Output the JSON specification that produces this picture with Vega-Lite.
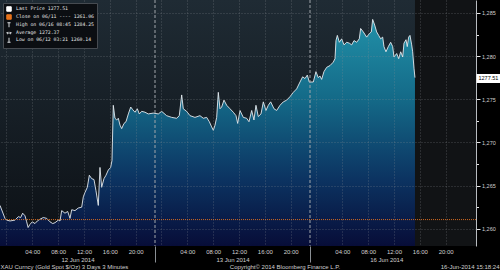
{
  "$schema": "https://vega.github.io/schema/vega-lite/v6.json",
  "width": 476,
  "height": 246,
  "autosize": {"type": "none"},
  "padding": {"left": 0, "top": 0, "right": 24, "bottom": 24},
  "background": "#000000",
  "config": {
    "view": {"fill": "#111315", "stroke": null},
    "font": "Liberation Sans",
    "legend": {"orient": "top-left", "offset": 3, "fillColor": "#0b0e12", "strokeColor": "#464b51", "padding": 3,
      "rowPadding": -2.6, "symbolSize": 20, "symbolStrokeWidth": 1, "symbolOpacity": 1,
      "labelFont": "DejaVu Sans Mono", "labelFontSize": 4.8, "labelColor": "#e6e6e6", "labelOffset": 4, "labelLimit": 200}
  },
  "datasets": {
    "gold": [
      {"t": -1.0, "p": 1262.7}, {"t": -0.23, "p": 1261.2}, {"t": 0.03, "p": 1261.0}, {"t": 0.55, "p": 1260.9},
      {"t": 1.32, "p": 1261.0}, {"t": 1.84, "p": 1261.4}, {"t": 2.2, "p": 1261.3}, {"t": 2.51, "p": 1261.8},
      {"t": 2.87, "p": 1261.5}, {"t": 3.13, "p": 1260.8}, {"t": 3.35, "p": 1260.14}, {"t": 3.64, "p": 1260.5},
      {"t": 4.0, "p": 1260.8}, {"t": 4.42, "p": 1260.6}, {"t": 4.78, "p": 1260.9}, {"t": 5.19, "p": 1261.1},
      {"t": 5.71, "p": 1261.3}, {"t": 6.23, "p": 1261.2}, {"t": 6.74, "p": 1260.8}, {"t": 7.16, "p": 1260.6},
      {"t": 7.52, "p": 1260.7}, {"t": 8.03, "p": 1261.0}, {"t": 8.29, "p": 1260.9}, {"t": 8.55, "p": 1262.1},
      {"t": 9.06, "p": 1261.8}, {"t": 9.48, "p": 1262.0}, {"t": 9.84, "p": 1261.2}, {"t": 10.1, "p": 1262.2},
      {"t": 10.61, "p": 1262.1}, {"t": 11.12, "p": 1262.4}, {"t": 11.65, "p": 1262.5}, {"t": 11.9, "p": 1263.7},
      {"t": 12.16, "p": 1264.2}, {"t": 12.52, "p": 1264.8}, {"t": 12.83, "p": 1266.2}, {"t": 13.2, "p": 1265.8},
      {"t": 13.55, "p": 1265.7}, {"t": 13.86, "p": 1264.4}, {"t": 14.22, "p": 1262.7}, {"t": 14.48, "p": 1267.1},
      {"t": 14.74, "p": 1264.8}, {"t": 15.1, "p": 1265.8}, {"t": 15.41, "p": 1266.2}, {"t": 15.77, "p": 1266.8},
      {"t": 16.13, "p": 1267.1}, {"t": 16.34, "p": 1267.9}, {"t": 16.54, "p": 1274.3}, {"t": 16.8, "p": 1272.8},
      {"t": 17.07, "p": 1272.6}, {"t": 17.32, "p": 1272.8}, {"t": 17.58, "p": 1272.0}, {"t": 17.84, "p": 1271.6},
      {"t": 18.2, "p": 1272.2}, {"t": 18.51, "p": 1272.4}, {"t": 18.87, "p": 1273.3}, {"t": 19.24, "p": 1274.1},
      {"t": 19.54, "p": 1273.8}, {"t": 19.9, "p": 1273.5}, {"t": 20.26, "p": 1273.9}, {"t": 20.57, "p": 1273.3},
      {"t": 20.94, "p": 1273.6}, {"t": 21.45, "p": 1273.5}, {"t": 21.96, "p": 1273.3}, {"t": 22.74, "p": 1273.4},
      {"t": 23.51, "p": 1273.3}, {"t": 24.03, "p": 1273.6}, {"t": 24.8, "p": 1273.1}, {"t": 25.58, "p": 1272.9},
      {"t": 26.35, "p": 1272.8}, {"t": 26.76, "p": 1273.1}, {"t": 27.13, "p": 1275.5}, {"t": 27.38, "p": 1273.9},
      {"t": 27.9, "p": 1273.6}, {"t": 28.42, "p": 1273.1}, {"t": 29.19, "p": 1272.9}, {"t": 29.96, "p": 1273.1},
      {"t": 30.48, "p": 1272.8}, {"t": 31.0, "p": 1272.9}, {"t": 31.41, "p": 1272.4}, {"t": 31.77, "p": 1271.8},
      {"t": 32.03, "p": 1271.4}, {"t": 32.29, "p": 1272.0}, {"t": 32.55, "p": 1272.9}, {"t": 32.8, "p": 1275.8},
      {"t": 33.06, "p": 1273.9}, {"t": 33.32, "p": 1274.1}, {"t": 33.68, "p": 1274.9}, {"t": 34.1, "p": 1274.3},
      {"t": 34.61, "p": 1273.9}, {"t": 35.12, "p": 1273.5}, {"t": 35.54, "p": 1273.1}, {"t": 35.8, "p": 1272.2},
      {"t": 36.16, "p": 1273.7}, {"t": 36.67, "p": 1272.9}, {"t": 37.19, "p": 1272.8}, {"t": 37.55, "p": 1272.4},
      {"t": 37.97, "p": 1273.7}, {"t": 38.32, "p": 1272.6}, {"t": 38.63, "p": 1274.3}, {"t": 38.99, "p": 1273.0},
      {"t": 39.41, "p": 1273.3}, {"t": 39.77, "p": 1274.7}, {"t": 40.18, "p": 1273.7}, {"t": 40.54, "p": 1274.3},
      {"t": 40.91, "p": 1274.7}, {"t": 41.42, "p": 1273.9}, {"t": 41.84, "p": 1273.7}, {"t": 42.35, "p": 1274.3},
      {"t": 42.87, "p": 1274.7}, {"t": 43.39, "p": 1274.9}, {"t": 43.9, "p": 1275.3}, {"t": 44.41, "p": 1275.8},
      {"t": 44.93, "p": 1276.2}, {"t": 45.45, "p": 1277.0}, {"t": 45.86, "p": 1277.6}, {"t": 46.22, "p": 1277.4},
      {"t": 46.58, "p": 1277.8}, {"t": 46.89, "p": 1277.0}, {"t": 47.51, "p": 1277.0}, {"t": 47.92, "p": 1278.2},
      {"t": 48.28, "p": 1277.5}, {"t": 48.54, "p": 1277.7}, {"t": 48.8, "p": 1277.3}, {"t": 49.16, "p": 1278.2},
      {"t": 49.58, "p": 1278.7}, {"t": 50.09, "p": 1278.9}, {"t": 50.6, "p": 1279.3}, {"t": 50.87, "p": 1279.7},
      {"t": 51.02, "p": 1281.8}, {"t": 51.23, "p": 1282.4}, {"t": 51.54, "p": 1281.6}, {"t": 51.9, "p": 1282.0},
      {"t": 52.26, "p": 1281.3}, {"t": 52.68, "p": 1281.6}, {"t": 53.08, "p": 1281.5}, {"t": 53.45, "p": 1281.3},
      {"t": 53.81, "p": 1281.8}, {"t": 54.22, "p": 1281.6}, {"t": 54.63, "p": 1282.0}, {"t": 54.84, "p": 1283.2},
      {"t": 55.25, "p": 1282.8}, {"t": 55.77, "p": 1282.2}, {"t": 56.18, "p": 1282.6}, {"t": 56.49, "p": 1282.8},
      {"t": 56.7, "p": 1284.25}, {"t": 57.01, "p": 1283.6}, {"t": 57.32, "p": 1282.8}, {"t": 57.63, "p": 1282.4},
      {"t": 57.94, "p": 1282.0}, {"t": 58.25, "p": 1282.2}, {"t": 58.45, "p": 1281.1}, {"t": 58.76, "p": 1280.5},
      {"t": 59.12, "p": 1281.1}, {"t": 59.49, "p": 1281.6}, {"t": 59.8, "p": 1281.1}, {"t": 60.0, "p": 1279.9},
      {"t": 60.42, "p": 1280.3}, {"t": 60.73, "p": 1279.7}, {"t": 61.04, "p": 1280.5}, {"t": 61.35, "p": 1279.9},
      {"t": 61.55, "p": 1281.5}, {"t": 61.86, "p": 1281.9}, {"t": 62.06, "p": 1281.1}, {"t": 62.27, "p": 1282.2},
      {"t": 62.48, "p": 1282.4}, {"t": 62.74, "p": 1281.3}, {"t": 62.89, "p": 1280.5}, {"t": 63.1, "p": 1278.6},
      {"t": 63.25, "p": 1277.51}
    ],
    "stats": [
      {"name": "Last Price", "val": 1277.51, "t": 63.25},
      {"name": "Close on 06/11 ----", "val": 1261.06, "t": -1},
      {"name": "High on 06/16 08:45", "val": 1284.25, "t": 56.7},
      {"name": "Average", "val": 1272.37, "t": 31},
      {"name": "Low on 06/12 03:21", "val": 1260.14, "t": 3.35}
    ],
    "days": [{"sep": 23}, {"sep": 47}]
  },
  "layer": [
    {
      "data": {"name": "gold"},
      "transform": [{"aggregate": [{"op": "min", "field": "t", "as": "t0"}, {"op": "max", "field": "t", "as": "t1"}]}],
      "mark": {"type": "rect", "fill": {"gradient": "linear", "x1": 0, "y1": 0, "x2": 0, "y2": 1, "stops": [{"offset": 0, "color": "#1f2b34"}, {"offset": 1, "color": "#0c1015"}]}},
      "encoding": {
        "x": {"field": "t0", "type": "quantitative", "scale": {"domain": [-1, 72.7], "nice": false, "zero": false}, "axis": null},
        "x2": {"field": "t1"}
      }
    },
    {
      "data": {"name": "gold"},
      "mark": {"type": "area", "clip": true, "color": {"gradient": "linear", "x1": 1, "y1": 0, "x2": 1, "y2": 1, "stops": [{"offset": 0, "color": "#2190a8"}, {"offset": 0.35, "color": "#146a88"}, {"offset": 0.7, "color": "#0c3462"}, {"offset": 1, "color": "#070d38"}]}},
      "encoding": {
        "x": {"field": "t", "type": "quantitative", "scale": {"domain": [-1, 72.7], "nice": false, "zero": false},
          "axis": {"orient": "bottom", "values": [0, 4, 8, 12, 16, 20, 24, 28, 32, 36, 40, 44, 48, 52, 56, 60, 64, 68],
            "grid": true, "gridColor": "#8a9096", "gridDash": [1, 2], "gridOpacity": 0.55, "gridWidth": 0.8,
            "ticks": false, "tickSize": 0, "domain": false,
            "labelExpr": "(datum.value % 24 == 0) ? '' : ((datum.value % 24) < 10 ? '0' : '') + (datum.value % 24) + ':00'",
            "labelFont": "Liberation Sans", "labelFontSize": 6, "labelColor": "#d0d0d0", "labelPadding": 2, "labelFlush": false, "labelOverlap": false,
            "title": "XAU Curncy (Gold Spot  $/Oz) 3 Days 3 Minutes", "titleX": 0, "titleY": 22.5, "titleAlign": "left", "titleBaseline": "alphabetic",
            "titleFont": "Liberation Sans", "titleFontSize": 6, "titleFontWeight": "normal", "titleColor": "#d0d0d0", "zindex": 1}},
        "y": {"field": "p", "type": "quantitative", "scale": {"domain": [1258, 1286.5], "nice": false, "zero": false},
          "axis": {"orient": "right", "values": [1260, 1262.5, 1265, 1267.5, 1270, 1272.5, 1275, 1277.5, 1280, 1282.5, 1285], "title": null,
            "grid": true, "gridColor": "#8a9096", "gridDash": [1, 2], "gridWidth": 0.8,
            "gridOpacity": {"condition": {"test": "datum.value % 5 == 0", "value": 0.55}, "value": 0},
            "domain": true, "domainColor": "#b8bcc0", "domainWidth": 1, "ticks": true, "tickColor": "#e6e6e6", "tickWidth": 1,
            "tickSize": {"condition": {"test": "datum.value % 5 == 0", "value": 4}, "value": 2.5},
            "labelExpr": "datum.value % 5 == 0 ? datum.label : ''",
            "labelFont": "Liberation Sans", "labelColor": "#d0d0d0", "labelFontSize": 5.5, "labelPadding": 1.5, "zindex": 1}},
        "y2": {"datum": 1258}
      }
    },
    {
      "data": {"name": "gold"},
      "mark": {"type": "line", "stroke": "#e4eaee", "strokeWidth": 0.9},
      "encoding": {
        "x": {"field": "t", "type": "quantitative",
          "axis": {"orient": "top", "offset": -246, "values": [11, 35, 58.8], "grid": false, "ticks": false, "tickSize": 0, "domain": false,
            "labelExpr": "datum.value == 11 ? '12 Jun 2014' : datum.value == 35 ? '13 Jun 2014' : '16 Jun 2014'",
            "labelFont": "Liberation Sans", "labelFontSize": 6, "labelColor": "#d0d0d0", "labelPadding": -13.5, "labelBaseline": "middle",
            "labelFlush": false, "labelOverlap": false,
            "title": "Copyright© 2014 Bloomberg Finance L.P.", "titleX": 284.5, "titleY": 22.5, "titleAlign": "center", "titleBaseline": "alphabetic",
            "titleFont": "Liberation Sans", "titleFontSize": 6, "titleFontWeight": "normal", "titleColor": "#d0d0d0"}},
        "y": {"field": "p", "type": "quantitative",
          "axis": {"orient": "left", "title": null, "grid": false, "domain": false, "labels": false, "ticks": false}}
      }
    },
    {
      "data": {"name": "stats"},
      "transform": [{"filter": "datum.name == 'Close on 06/11 ----'"}],
      "mark": {"type": "rule", "stroke": "#d2691e", "strokeDash": [1, 1], "strokeWidth": 1},
      "encoding": {
        "y": {"field": "val", "type": "quantitative",
          "axis": {"orient": "right", "values": [1277.51], "format": ".2f", "title": null, "grid": false, "domain": false,
            "ticks": true, "tickSize": 24, "tickWidth": 9, "tickColor": "#ffffff",
            "labelFont": "Liberation Sans", "labelColor": "#000000", "labelFontSize": 5.5, "labelPadding": -22, "zindex": 2}}
      }
    },
    {
      "data": {"name": "days"},
      "mark": {"type": "rule", "stroke": "#a0a5aa", "strokeDash": [3, 2], "strokeWidth": 1},
      "encoding": {
        "x": {"field": "sep", "type": "quantitative",
          "axis": {"orient": "bottom", "values": [23, 47], "grid": false, "domain": false, "labels": false,
            "ticks": true, "tickSize": 16, "tickColor": "#8a8f94", "tickWidth": 1,
            "title": "16-Jun-2014 15:18:24", "titleX": 499, "titleY": 22.5, "titleAlign": "right", "titleBaseline": "alphabetic",
            "titleFont": "Liberation Sans", "titleFontSize": 6, "titleFontWeight": "normal", "titleColor": "#d0d0d0"}}
      }
    },
    {
      "data": {"name": "stats"},
      "mark": {"type": "point", "size": 0, "strokeWidth": 1},
      "encoding": {
        "x": {"field": "t", "type": "quantitative", "axis": null},
        "y": {"field": "val", "type": "quantitative", "axis": null},
        "fill": {"field": "name", "type": "nominal",
          "scale": {"domain": ["Last Price", "Close on 06/11 ----", "High on 06/16 08:45", "Average", "Low on 06/12 03:21"],
            "range": ["#ffffff", "#e8741c", "#cfd3d6", "#cfd3d6", "#cfd3d6"]},
          "legend": {"title": null, "zindex": 2,
            "labelExpr": "pad(datum.label, 20) + (datum.label == 'Last Price' ? '1277.51' : datum.label == 'Close on 06/11 ----' ? '1261.06' : datum.label == 'High on 06/16 08:45' ? '1284.25' : datum.label == 'Average' ? '1272.37' : '1260.14')"}},
        "stroke": {"field": "name", "type": "nominal",
          "scale": {"domain": ["Last Price", "Close on 06/11 ----", "High on 06/16 08:45", "Average", "Low on 06/12 03:21"],
            "range": ["#ffffff", "#e8741c", "#d8dcdf", "#d8dcdf", "#d8dcdf"]},
          "legend": {"title": null}},
        "shape": {"field": "name", "type": "nominal",
          "scale": {"domain": ["Last Price", "Close on 06/11 ----", "High on 06/16 08:45", "Average", "Low on 06/12 03:21"],
            "range": ["square", "square", "M-0.7,-1L0.7,-1M0,-1L0,1", "M-1,0L1,0M-1,0L-0.5,-0.5M-1,0L-0.5,0.5M1,0L0.5,-0.5M1,0L0.5,0.5", "M-0.7,1L0.7,1M0,-1L0,1"]},
          "legend": {"title": null}}
      }
    }
  ],
  "resolve": {"axis": {"x": "independent", "y": "independent"}}
}
